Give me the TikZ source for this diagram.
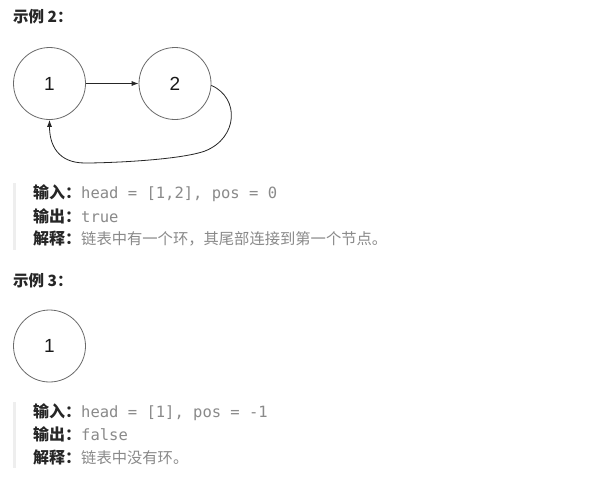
\documentclass[tikz,border=0pt]{standalone}
\usepackage{fontspec}
\setmainfont{Noto Sans CJK SC}
\newfontfamily\cjk{Noto Sans CJK SC}
\newfontfamily\numfont{Liberation Sans}
\setmonofont{DejaVu Sans Mono}
\usetikzlibrary{arrows.meta}
\definecolor{lbl}{HTML}{262626}
\definecolor{gtxt}{HTML}{8A8A8A}
\definecolor{ring}{HTML}{6A6A6A}
\definecolor{barc}{HTML}{EEEEEE}
\tikzset{
  listnode/.style={circle,draw=ring,line width=0.8pt,minimum size=72pt,inner sep=0pt,font=\numfont\fontsize{19}{19}\selectfont,text=black!90},
  title/.style={anchor=west,inner sep=0pt,font=\cjk\bfseries\fontsize{15.5}{15.5}\selectfont,text=lbl},
  line/.style={anchor=west,inner sep=0pt,font=\fontsize{15.5}{15.5}\selectfont},
  conn/.style={draw=black!85,line width=0.8pt,-{Latex[length=7pt,width=5pt]}},
}
\newcommand{\lab}[1]{{\cjk\bfseries\fontsize{16}{16}\selectfont\color{lbl}#1}}
\newcommand{\cod}[1]{{\ttfamily\fontsize{15.5}{15.5}\selectfont\color{gtxt}#1}}
\newcommand{\gr}[1]{{\cjk\fontsize{15.3}{15.3}\selectfont\color{gtxt}#1}}
\begin{document}
\begin{tikzpicture}[x=1pt,y=-1pt]
\useasboundingbox[fill=white] (0,0) rectangle (601,485);
\node[title] (t2) at (13,17) {示例 2：};
\node[listnode] (a1) at (49.5,83.5) {1};
\node[listnode] (a2) at (175,83.5) {2};
\draw[conn] (a1) -- (a2);
\draw[conn] (a2.-3) .. controls (240,98) and (238,138) .. (205,151)
  .. controls (180,160) and (110,163) .. (85,163)
  .. controls (58,163) and (49.5,145) .. (a1.south);
\fill[barc] (13,183) rectangle (15.5,250);
\node[line] (l1) at (33,193) {\lab{输入：}\cod{head = [1,2], pos = 0}};
\node[line] (l2) at (33,216) {\lab{输出：}\cod{true}};
\node[line] (l3) at (33,238.5) {\lab{解释：}\gr{链表中有一个环，其尾部连接到第一个节点。}};
\node[title] (t3) at (13,281) {示例 3：};
\node[listnode] (b1) at (49.5,346) {1};
\fill[barc] (13,402) rectangle (15.5,468);
\node[line] (m1) at (33,412) {\lab{输入：}\cod{head = [1], pos = -1}};
\node[line] (m2) at (33,434.5) {\lab{输出：}\cod{false}};
\node[line] (m3) at (33,457) {\lab{解释：}\gr{链表中没有环。}};
\end{tikzpicture}
\end{document}
